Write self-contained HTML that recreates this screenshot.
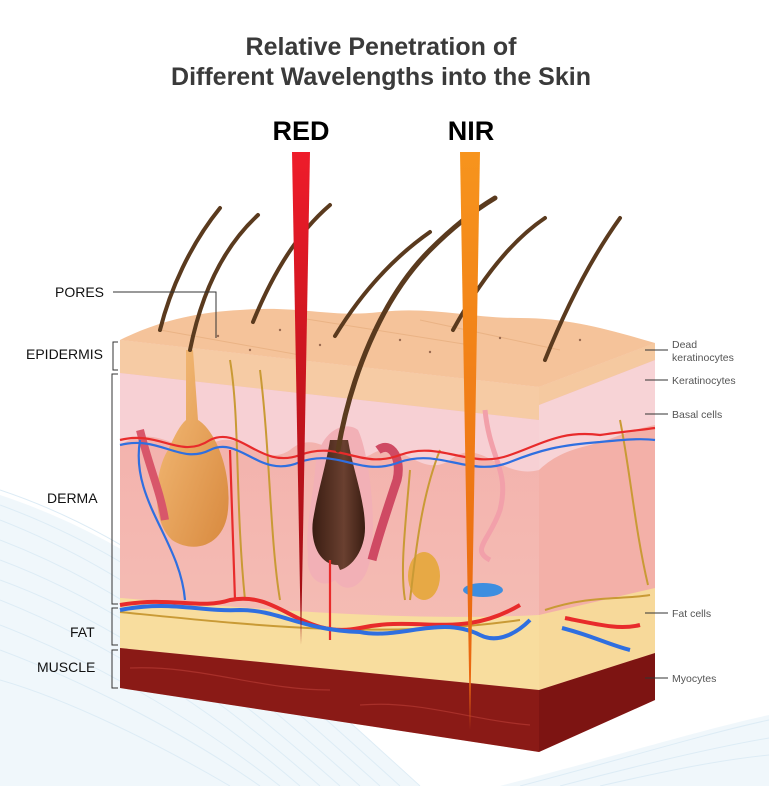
<!DOCTYPE html>
<html><head><meta charset="utf-8"><style>
html,body{margin:0;padding:0;background:#fff;}
body{width:769px;height:786px;overflow:hidden;position:relative;font-family:"Liberation Sans",sans-serif;}
svg{position:absolute;left:0;top:0;}
</style></head><body>
<svg width="769" height="786" viewBox="0 0 769 786" xmlns="http://www.w3.org/2000/svg">
<defs>
<linearGradient id="redg" x1="0" y1="0" x2="0" y2="1"><stop offset="0" stop-color="#ee1c2a"/><stop offset="1" stop-color="#9c0d12"/></linearGradient>
<linearGradient id="nirg" x1="0" y1="0" x2="0" y2="1"><stop offset="0" stop-color="#f7941d"/><stop offset="1" stop-color="#e8620f"/></linearGradient>
<linearGradient id="derm" x1="0" y1="0" x2="0" y2="1"><stop offset="0" stop-color="#f2aeaa"/><stop offset="1" stop-color="#f6c2b8"/></linearGradient>
<linearGradient id="gland" x1="0" y1="0" x2="1" y2="1"><stop offset="0" stop-color="#f6c07d"/><stop offset="1" stop-color="#d8893e"/></linearGradient>
<linearGradient id="bulb" x1="0" y1="0" x2="1" y2="0"><stop offset="0" stop-color="#3a1d12"/><stop offset="0.6" stop-color="#6a4030"/><stop offset="1" stop-color="#3a1d12"/></linearGradient>
</defs>
<g fill="none" stroke="#cfe3f1" stroke-width="1">
<path d="M0 490 C150 540 260 640 420 786" stroke="#dcebf5"/>
<path d="M0 505 C150 560 250 650 400 786"/>
<path d="M0 520 C140 575 240 660 380 786"/>
<path d="M0 540 C130 590 230 670 360 786"/>
<path d="M0 560 C120 605 220 680 340 786"/>
<path d="M0 580 C110 620 210 690 320 786"/>
<path d="M0 600 C100 640 200 700 300 786"/>
<path d="M0 625 C90 660 190 715 280 786"/>
<path d="M0 650 C80 680 180 730 260 786"/>
<path d="M0 680 C70 700 160 745 230 786"/>
<path d="M520 786 C620 760 700 735 769 720"/>
<path d="M560 786 C640 765 710 748 769 738"/>
<path d="M600 786 C670 770 720 760 769 755"/>
</g>
<path d="M0 495 C150 545 260 640 420 786 L0 786Z" fill="#e6f1f9" opacity="0.6"/>
<path d="M500 786 C620 755 700 730 769 715 L769 786Z" fill="#e6f1f9" opacity="0.6"/>

<text x="381" y="55" text-anchor="middle" font-size="25" font-weight="bold" fill="#3a3a3a">Relative Penetration of</text>
<text x="381" y="85" text-anchor="middle" font-size="25" font-weight="bold" fill="#3a3a3a">Different Wavelengths into the Skin</text>
<text x="301" y="140" text-anchor="middle" font-size="27" font-weight="bold" fill="#000">RED</text>
<text x="471" y="140" text-anchor="middle" font-size="27" font-weight="bold" fill="#000">NIR</text>

<polygon points="539,387 655,343 655,700 539,752" fill="#f3b0a8"/>
<polygon points="539,387 655,343 655,360 539,405" fill="#f5c9a0"/>
<path d="M539 405 L655 360 L655 425 C630 430 610 440 590 445 C570 450 555 455 539 470Z" fill="#f7d3d6"/>
<polygon points="539,615 655,588 655,653 539,690" fill="#f7d99a"/>
<polygon points="539,690 655,653 655,700 539,752" fill="#7d1412"/>
<polygon points="120,340 539,387 539,752 120,688" fill="url(#derm)"/>
<polygon points="120,340 539,387 539,420 120,373" fill="#f6cba4"/>
<path d="M120 373 L539 420 L539 470 C500 480 480 435 450 460 C420 480 400 435 370 455 C340 470 320 425 290 450 C260 470 240 425 210 445 C180 460 160 420 120 445 Z" fill="#f7d0d4"/>
<path d="M120 598 C250 608 400 622 539 615 L539 690 L120 648Z" fill="#f8dd9e"/>
<polygon points="120,648 539,690 539,752 120,688" fill="#8a1a16"/>
<path d="M130 668 C200 665 260 690 330 690 M360 705 C420 700 470 720 530 725" stroke="#a8302a" stroke-width="1.2" fill="none"/>
<path d="M120 340 C160 320 200 312 240 310 C300 305 330 318 380 312 C430 306 470 318 520 318 C570 318 610 330 655 343 L539 387 Z" fill="#f5c39a"/>
<path d="M160 330 L300 355 M300 318 L470 345 M420 320 L560 350" stroke="#eab385" stroke-width="1" fill="none"/>
<g fill="#9a6a50"><circle cx="218" cy="336" r="1.2"/><circle cx="280" cy="330" r="1.2"/><circle cx="320" cy="345" r="1.2"/><circle cx="400" cy="340" r="1.2"/><circle cx="430" cy="352" r="1.2"/><circle cx="500" cy="338" r="1.2"/><circle cx="580" cy="340" r="1.2"/><circle cx="250" cy="350" r="1.2"/></g>

<path d="M186 350 L193 350 L198 420 C215 430 232 470 228 510 C225 545 195 555 172 540 C150 520 155 470 168 450 C175 435 180 425 186 420 Z" fill="url(#gland)"/>
<path d="M140 430 C150 470 160 490 165 520" stroke="#d8566a" stroke-width="8" fill="none"/>
<path d="M315 470 C318 430 345 420 358 430 C368 450 378 520 370 560 C365 588 345 595 335 580 C322 590 305 578 308 555 C305 525 313 500 315 470Z" fill="#f2b0b6"/>
<path d="M338 565 C318 565 310 540 313 520 C318 490 325 470 330 440 L348 440 C353 470 365 500 365 528 C365 550 352 567 340 570Z" fill="url(#bulb)"/>
<path d="M378 450 C392 440 402 460 397 480 C387 510 377 540 372 560" stroke="#cf4a63" stroke-width="9" fill="none"/>
<path d="M485 410 C490 460 510 470 500 510 C490 540 470 550 490 560" stroke="#f2a0aa" stroke-width="5" fill="none"/>
<ellipse cx="424" cy="576" rx="16" ry="24" fill="#e7a945"/>
<ellipse cx="483" cy="590" rx="20" ry="7" fill="#3d8ee0"/>
<g stroke="#c99a35" stroke-width="2" fill="none">
<path d="M230 360 C240 420 235 500 245 600"/><path d="M260 370 C270 450 270 540 280 600"/>
<path d="M410 470 C405 530 400 570 405 600"/><path d="M440 450 C420 500 415 560 410 600"/>
<path d="M620 420 C630 470 635 530 648 585"/><path d="M545 610 C590 595 620 600 650 595"/>
<path d="M120 612 C250 625 380 640 520 620"/>
</g>
<g fill="none" stroke-width="2.2">
<path d="M120 440 C160 430 180 460 210 440 C240 425 260 470 300 455 C340 440 360 470 400 455 C440 440 470 470 510 455 C540 445 560 430 600 435 C620 432 640 430 655 428" stroke="#e82b2b"/>
<path d="M120 445 C160 435 180 465 210 450 C240 435 260 480 300 462 C340 448 360 478 400 462 C440 448 470 478 510 462 C540 450 560 445 600 442 C620 440 640 438 655 440" stroke="#2f6fe0"/>
<path d="M140 440 C130 500 180 540 185 600" stroke="#2f6fe0"/>
<path d="M230 450 L235 600 M330 560 L330 640" stroke="#e82b2b"/>
</g>
<g fill="none" stroke-width="4">
<path d="M120 605 C170 596 200 610 230 600 C280 590 300 640 360 628 C420 615 460 640 520 605" stroke="#e82b2b"/>
<path d="M120 610 C170 600 200 612 240 610 C280 610 300 630 360 632 C400 640 440 615 480 635 C500 645 520 630 530 620" stroke="#2f6fe0"/>
<path d="M565 618 C600 625 620 630 640 625" stroke="#e82b2b"/>
<path d="M562 628 C590 635 610 645 630 650" stroke="#2f6fe0"/>
</g>
<g stroke-linecap="round" fill="none">
<path d="M160 330 C170 290 190 245 220 208" stroke="#5a3a1e" stroke-width="4"/>
<path d="M190 350 C200 300 220 250 258 215" stroke="#5a3a1e" stroke-width="4"/>
<path d="M253 322 C270 280 295 235 330 205" stroke="#5a3a1e" stroke-width="4"/>
<path d="M335 336 C360 295 390 260 430 232" stroke="#5a3a1e" stroke-width="4"/>
<path d="M338 450 C350 380 380 300 430 250 C455 225 475 210 495 198" stroke="#5a3a1e" stroke-width="5"/>
<path d="M453 330 C475 290 505 245 545 218" stroke="#5a3a1e" stroke-width="4"/>
<path d="M545 360 C565 310 590 260 620 218" stroke="#5a3a1e" stroke-width="4"/>
</g>
<polygon points="292,152 310,152 301,645" fill="url(#redg)"/>
<polygon points="460,152 480,152 470,730" fill="url(#nirg)"/>
<g font-size="14" fill="#111">
<text x="55" y="297">PORES</text>
<text x="26" y="359">EPIDERMIS</text>
<text x="47" y="503">DERMA</text>
<text x="70" y="637">FAT</text>
<text x="37" y="672">MUSCLE</text>
</g>
<g stroke="#333" stroke-width="1" fill="none">
<path d="M113 292 L216 292 L216 338"/>
<path d="M118 342 L113 342 L113 370 L118 370"/>
<path d="M118 374 L112 374 L112 604 L118 604"/>
<path d="M118 608 L112 608 L112 645 L118 645"/>
<path d="M118 650 L112 650 L112 688 L118 688"/>
<path d="M645 350 L668 350 M645 380 L668 380 M645 414 L668 414 M645 613 L668 613 M645 678 L668 678"/>
</g>
<g font-size="10.5" fill="#555">
<text x="672" y="348">Dead</text>
<text x="672" y="361">keratinocytes</text>
<text x="672" y="384">Keratinocytes</text>
<text x="672" y="418">Basal cells</text>
<text x="672" y="617">Fat cells</text>
<text x="672" y="682">Myocytes</text>
</g>
</svg>
</body></html>
